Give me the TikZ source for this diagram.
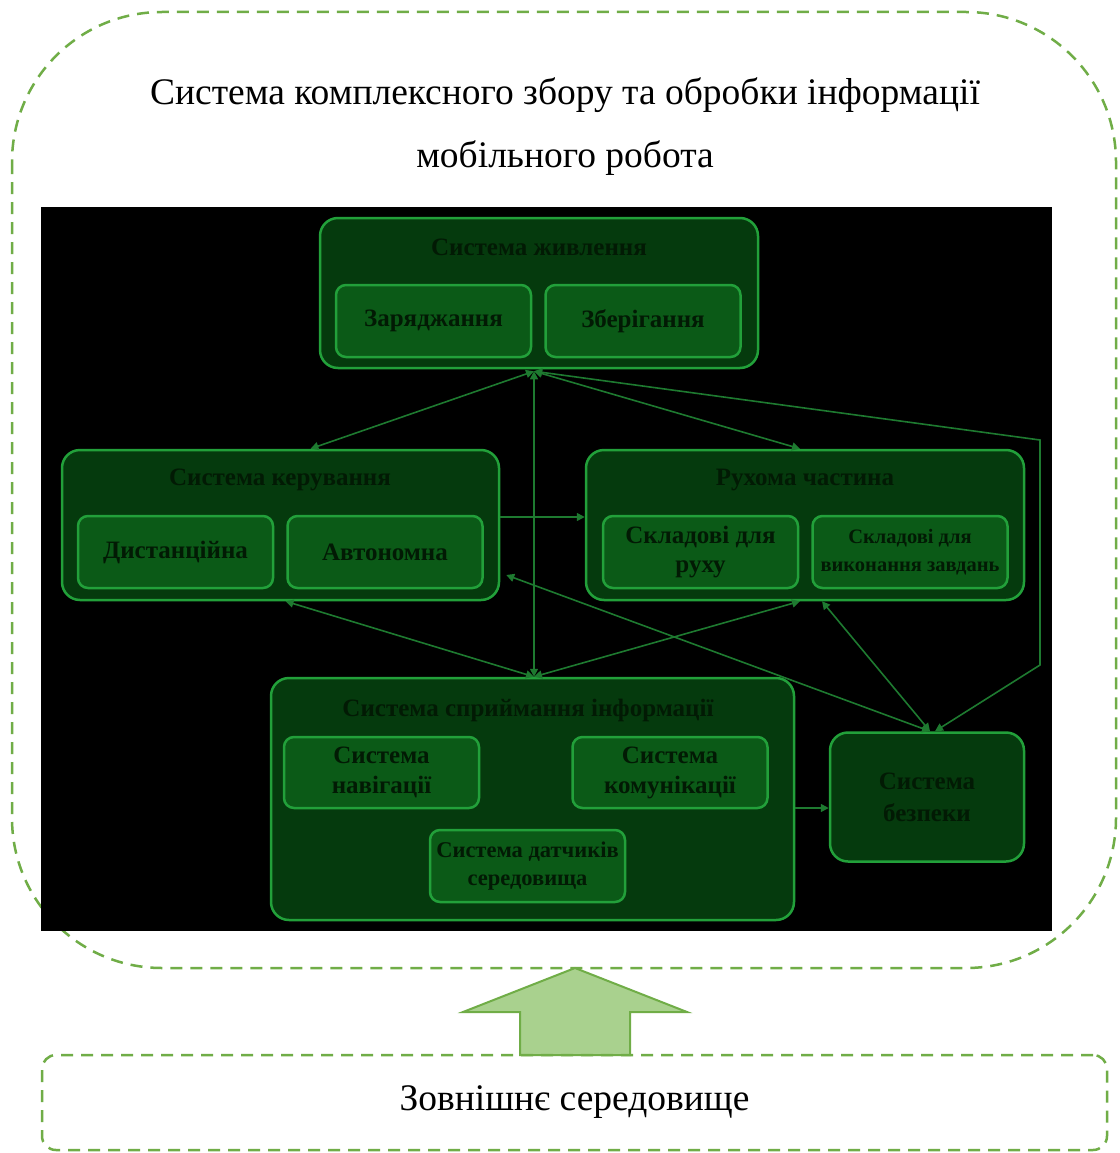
\documentclass[tikz,border=0pt]{standalone}
\usepackage{fontspec}
\setmainfont{Liberation Serif}
\usetikzlibrary{calc,arrows.meta}
\definecolor{dashgreen}{HTML}{70AD47}
\definecolor{arrowfill}{HTML}{A9D18E}
\definecolor{bigfill}{HTML}{053A0D}
\definecolor{subfill}{HTML}{0B5A17}
\definecolor{brd}{HTML}{22A03A}
\definecolor{conncol}{HTML}{1E7A30}
\definecolor{darktext}{HTML}{021A04}
\tikzset{
  x=1pt, y=-1pt,
  bigbox/.style={draw=brd, line width=2.5pt, fill=bigfill, rounded corners=18pt, inner sep=0pt},
  subbox/.style={draw=brd, line width=2.5pt, fill=subfill, rounded corners=10pt, inner sep=0pt,
     minimum width=195pt, minimum height=72pt, align=center, text=darktext,
     font=\fontsize{25}{29}\selectfont\bfseries},
  boxtitle/.style={text=darktext, font=\fontsize{25}{29}\selectfont\bfseries, inner sep=0pt},
  conn/.style={draw=conncol, line width=1.6pt, arrows={-Triangle[length=8pt,width=8pt]}},
  conn2/.style={draw=conncol, line width=1.6pt, arrows={Triangle[length=8pt,width=8pt]-Triangle[length=8pt,width=8pt]}},
  dashbox/.style={draw=dashgreen, line width=2.5pt, dash pattern=on 12pt off 8pt},
  maintext/.style={font=\fontsize{37.5}{44}\selectfont, inner sep=0pt}
}
\begin{document}
\begin{tikzpicture}
\useasboundingbox[fill=white] (0,0) rectangle (1119,1153);
% outer dashed frame
\draw[dashbox, rounded corners=150pt] (12,12) rectangle (1116,968);
% black picture area
\fill[black] (41,207) rectangle (1052,931);
% big boxes
\node[bigbox, minimum width=438pt, minimum height=150pt] (pw) at (539,293) {};
\node[bigbox, minimum width=437pt, minimum height=150pt] (ctl) at (280.5,525) {};
\node[bigbox, minimum width=438pt, minimum height=150pt] (mov) at (805,525) {};
\node[bigbox, minimum width=523pt, minimum height=242pt] (per) at (532.5,799) {};
\node[bigbox, minimum width=194pt, minimum height=129pt, align=center, text=darktext,
      font=\fontsize{25}{32}\selectfont\bfseries] (saf) at (927,797) {Система\\безпеки};
% titles
\node[boxtitle] (pwt) at (539,247) {Система живлення};
\node[boxtitle] (ctlt) at (280,480) {Система керування};
\node[boxtitle] (movt) at (805,480) {Рухома частина};
\node[boxtitle] (pert) at (528,710) {Система сприймання інформації};
% sub boxes
\node[subbox] (zar) at (433.5,321) {Заряджання};
\node[subbox] (zber) at (643,321) {Зберігання};
\node[subbox] (dist) at (175.5,552) {Дистанційна};
\node[subbox] (auto) at (385,552) {Автономна};
\node[subbox, font=\fontsize{25}{29}\selectfont\bfseries] (ruh) at (700.5,552) {Складові для\\руху};
\node[subbox, font=\fontsize{20.5}{28}\selectfont\bfseries] (vyk) at (910,552) {Складові для\\виконання завдань};
\node[subbox, minimum height=71pt, font=\fontsize{25}{30}\selectfont\bfseries] (nav) at (381.5,772.5) {Система\\навігації};
\node[subbox, minimum height=71pt, font=\fontsize{25}{30}\selectfont\bfseries] (kom) at (670,772.5) {Система\\комунікації};
\node[subbox, font=\fontsize{22.5}{28}\selectfont\bfseries] (dat) at (527.5,866) {Система датчиків\\середовища};
% connectors
\coordinate (hub) at ($(pw.south)+(-5,2)$);
\coordinate (rt1) at (1040,440);
\coordinate (rt2) at (1040,665);
\coordinate (pe) at ($(per.east)+(0,9)$);
\draw[conn2] (hub) -- ($(ctl.north)+(30,0)$);
\draw[conn2] (hub) -- ($(per.north)+(1.5,0)$);
\draw[conn2] (hub) -- ($(mov.north)+(-5,0)$);
\draw[conn2] (hub) -- (rt1) -- (rt2) -- ($(saf.north)+(8,0)$);
\draw[conn] ($(ctl.east)+(0,-8)$) -- ($(mov.west)+(0,-8)$);
\draw[conn2] ($(ctl.south)+(5,0)$) -- ($(per.north)+(1.5,0)$);
\draw[conn2] ($(mov.south)+(-5,0)$) -- ($(per.north)+(1.5,0)$);
\draw[conn2] ($(ctl.east)+(6,50)$) -- ($(saf.north)+(3,0)$);
\draw[conn2] ($(mov.south)+(17,0)$) -- ($(saf.north)+(3,0)$);
\draw[conn] (pe) -- (pe -| saf.west);
% title text
\node[maintext] (t1) at (565,95) {Система комплексного збору та обробки інформації};
\node[maintext] (t2) at (565,158) {мобільного робота};
% big arrow
\draw[draw=dashgreen, fill=arrowfill, line width=2pt, line join=miter]
  (575,968) -- (687,1012) -- (630,1012) -- (630,1055) -- (520,1055) -- (520,1012) -- (463,1012) -- cycle;
% bottom dashed box
\node[dashbox, rounded corners=14pt, minimum width=1065pt, minimum height=95pt, inner sep=0pt,
      font=\fontsize{37.5}{44}\selectfont] (env) at (574.5,1102.5) {Зовнішнє середовище};
\end{tikzpicture}
\end{document}
